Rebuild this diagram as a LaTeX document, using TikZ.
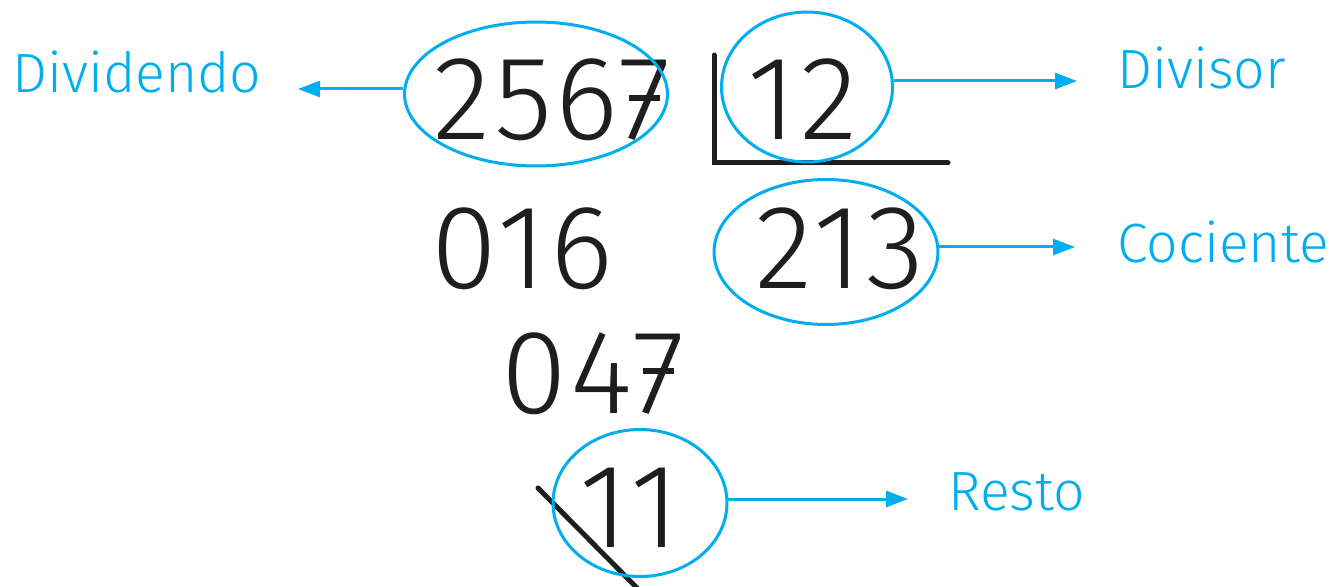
\documentclass[tikz,border=0pt]{standalone}
\usepackage{fontspec}
\setmainfont{Fira Sans Light}
\newfontfamily\cifras{Fira Sans Light}[LetterSpace=3]
\usetikzlibrary{arrows.meta,shapes.geometric}
\definecolor{celeste}{RGB}{0,174,239}
\definecolor{tinta}{RGB}{30,30,30}
\newcommand{\sietebar}{\ooalign{7\cr\hidewidth\rule[0.33em]{0.26em}{0.05em}\hidewidth\cr}}

\begin{document}
\begin{tikzpicture}[x=0.02cm,y=-0.02cm,
    num/.style={font=\cifras\fontsize{68}{68}\selectfont,text=tinta,
                inner sep=0pt,anchor=base},
    lbl/.style={font=\fontsize{31.5}{31.5}\selectfont,text=celeste,
                inner sep=0pt,anchor=base west},
    rodeo/.style={draw=celeste,line width=0.06cm,ellipse,inner sep=0pt},
    arr/.style={-{Triangle[length=0.44cm,width=0.32cm]},celeste,line width=0.06cm},
    raya/.style={tinta,line width=0.1cm,line cap=round}
  ]
  \clip (0,0) rectangle (1337,587);
  % cifras de la division
  \node[num] (dvd) at (552,140) {256\sietebar};
  \node[num] (dvs) at (803,140) {12};
  \node[num] (r1)  at (522,288) {016};
  \node[num] (coc) at (840,288) {213};
  \node[num] (r2)  at (593,413) {04\sietebar};
  \node[num] (res) at (630,547) {11};
  % galera
  \draw[raya] (714,55) -- (714,163) -- (948,163);
  \draw[raya] (538,488) -- (645,596);
  % rodeos
  \node[rodeo,minimum width=5.26cm,minimum height=2.88cm] (e2567) at (536,94) {};
  \node[rodeo,minimum width=3.42cm,minimum height=3.00cm] (e12) at (807,87) {};
  \node[rodeo,minimum width=4.48cm,minimum height=2.90cm] (e213) at (826,252) {};
  \node[rodeo,minimum width=3.48cm,minimum height=2.94cm] (e11) at (640,503) {};
  % nombres
  \node[lbl] (ldvd) at (12,93)   {Dividendo};
  \node[lbl] (ldvs) at (1117,89) {Divisor};
  \node[lbl] (lcoc) at (1117,262) {Cociente};
  \node[lbl] (lres) at (948,510) {Resto};
  % flechas
  \coordinate (pdvd) at (298,89);
  \coordinate (pdvs) at (1077,81);
  \coordinate (pcoc) at (1075,247);
  \coordinate (pres) at (908,499);
  \draw[arr] (pdvd -| e2567.west) -- (pdvd);
  \draw[arr] (pdvs -| e12.east) -- (pdvs);
  \draw[arr] (pcoc -| e213.east) -- (pcoc);
  \draw[arr] (pres -| e11.east) -- (pres);
\end{tikzpicture}
\end{document}
